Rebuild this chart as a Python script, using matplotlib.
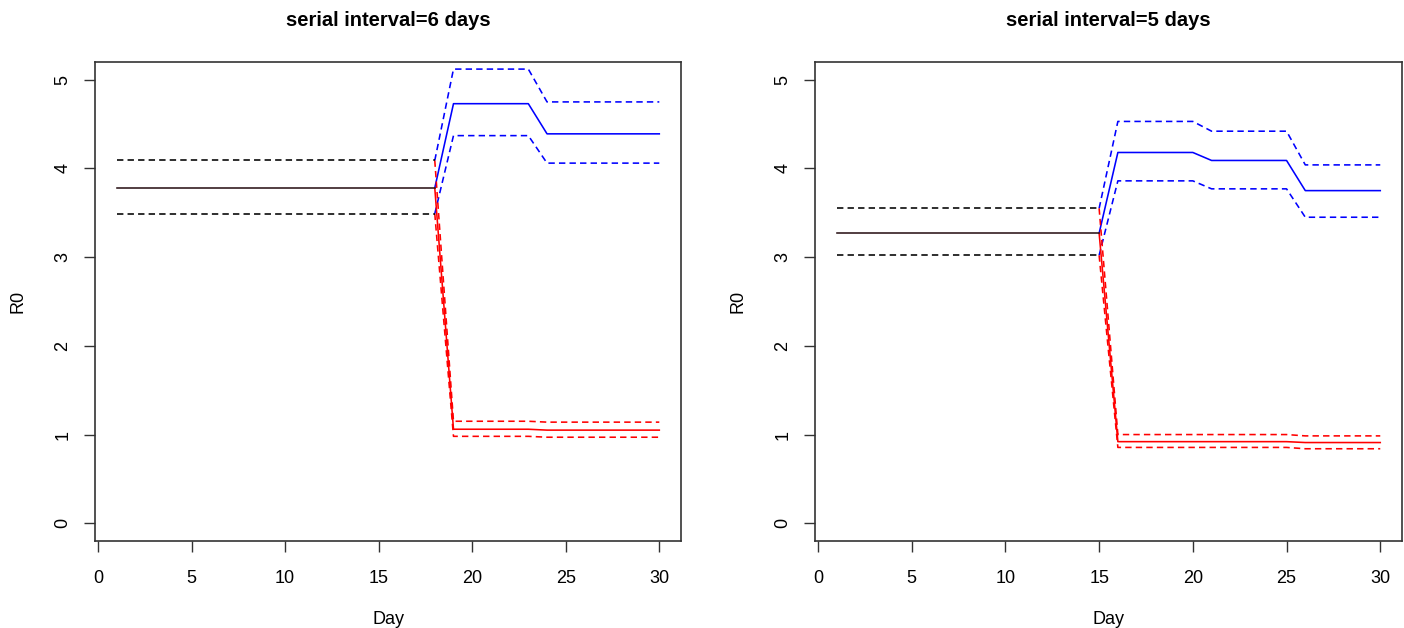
import matplotlib
matplotlib.use('Agg')
import matplotlib.pyplot as plt
import numpy as np

plt.rcParams['font.family'] = ['Liberation Sans', 'DejaVu Sans']

# --- data ---
# serial interval = 6 days
si6_pre_days = np.arange(1, 19)
si6_pre_est = [3.78] * 18
si6_pre_lo = [3.49] * 18
si6_pre_hi = [4.09] * 18
si6_post_days = np.arange(18, 31)
si6_blue_est = [3.78, 4.73, 4.73, 4.73, 4.73, 4.73, 4.39, 4.39, 4.39, 4.39, 4.39, 4.39, 4.39]
si6_blue_lo = [3.49, 4.37, 4.37, 4.37, 4.37, 4.37, 4.06, 4.06, 4.06, 4.06, 4.06, 4.06, 4.06]
si6_blue_hi = [4.09, 5.12, 5.12, 5.12, 5.12, 5.12, 4.75, 4.75, 4.75, 4.75, 4.75, 4.75, 4.75]
si6_red_est = [3.78, 1.06, 1.06, 1.06, 1.06, 1.06, 1.05, 1.05, 1.05, 1.05, 1.05, 1.05, 1.05]
si6_red_lo = [3.49, 0.98, 0.98, 0.98, 0.98, 0.98, 0.97, 0.97, 0.97, 0.97, 0.97, 0.97, 0.97]
si6_red_hi = [4.09, 1.15, 1.15, 1.15, 1.15, 1.15, 1.14, 1.14, 1.14, 1.14, 1.14, 1.14, 1.14]

# serial interval = 5 days
si5_pre_days = np.arange(1, 16)
si5_pre_est = [3.27] * 15
si5_pre_lo = [3.02] * 15
si5_pre_hi = [3.55] * 15
si5_post_days = np.arange(15, 31)
si5_blue_est = [3.27, 4.18, 4.18, 4.18, 4.18, 4.18, 4.09, 4.09, 4.09, 4.09, 4.09, 3.75, 3.75, 3.75, 3.75, 3.75]
si5_blue_lo = [3.02, 3.86, 3.86, 3.86, 3.86, 3.86, 3.77, 3.77, 3.77, 3.77, 3.77, 3.45, 3.45, 3.45, 3.45, 3.45]
si5_blue_hi = [3.55, 4.53, 4.53, 4.53, 4.53, 4.53, 4.42, 4.42, 4.42, 4.42, 4.42, 4.04, 4.04, 4.04, 4.04, 4.04]
si5_red_est = [3.27, 0.92, 0.92, 0.92, 0.92, 0.92, 0.92, 0.92, 0.92, 0.92, 0.92, 0.91, 0.91, 0.91, 0.91, 0.91]
si5_red_lo = [3.02, 0.855, 0.855, 0.855, 0.855, 0.855, 0.855, 0.855, 0.855, 0.855, 0.855, 0.84, 0.84, 0.84, 0.84, 0.84]
si5_red_hi = [3.55, 1.00, 1.00, 1.00, 1.00, 1.00, 1.00, 1.00, 1.00, 1.00, 1.00, 0.985, 0.985, 0.985, 0.985, 0.985]

titles = ["serial interval=6 days", "serial interval=5 days"]

panels = [
    (si6_pre_days, si6_pre_est, si6_pre_lo, si6_pre_hi, si6_post_days,
     si6_blue_est, si6_blue_lo, si6_blue_hi, si6_red_est, si6_red_lo, si6_red_hi),
    (si5_pre_days, si5_pre_est, si5_pre_lo, si5_pre_hi, si5_post_days,
     si5_blue_est, si5_blue_lo, si5_blue_hi, si5_red_est, si5_red_lo, si5_red_hi),
]

fig = plt.figure(figsize=(14.04, 6.28), dpi=100)
ax_left = fig.add_axes([95 / 1404, 87 / 628, 586 / 1404, 479 / 628])
ax_right = fig.add_axes([815 / 1404, 87 / 628, 587 / 1404, 479 / 628])

dash = (0, (4, 2.6))
lw = 1.15

for ax, title, p in zip([ax_left, ax_right], titles, panels):
    pre_d, pre_e, pre_l, pre_h, post_d, b_e, b_l, b_h, r_e, r_l, r_h = p

    ax.plot(post_d, b_e, c='#0000ff', lw=lw)
    ax.plot(post_d, b_l, c='#0000ff', lw=lw, ls=dash)
    ax.plot(post_d, b_h, c='#0000ff', lw=lw, ls=dash)
    ax.plot(post_d, r_e, c='#ff0000', lw=lw)
    ax.plot(post_d, r_l, c='#ff0000', lw=lw, ls=dash)
    ax.plot(post_d, r_h, c='#ff0000', lw=lw, ls=dash)
    ax.plot(pre_d, pre_e, c='#2c1418', lw=lw)
    ax.plot(pre_d, pre_l, c='black', lw=lw, ls=dash)
    ax.plot(pre_d, pre_h, c='black', lw=lw, ls=dash)

    ax.set_xlim(-0.16, 31.16)
    ax.set_ylim(-0.2, 5.2)
    ax.set_xticks([0, 5, 10, 15, 20, 25, 30])
    ax.set_yticks([0, 1, 2, 3, 4, 5])
    ax.tick_params(length=8, width=1, color='#333333', labelsize=13, pad=13)
    ax.tick_params(axis='y', pad=9)
    for lab in ax.get_yticklabels():
        lab.set_rotation(90)
        lab.set_va('center')
    for s in ax.spines.values():
        s.set_color('#333333')
        s.set_linewidth(1.2)

    ax.set_title(title, fontsize=14.5, fontweight='bold', pad=26)
    ax.set_xlabel("Day", fontsize=13, labelpad=17)
    ax.set_ylabel("R0", fontsize=13, labelpad=20)

fig.savefig('out.png', dpi=100)
